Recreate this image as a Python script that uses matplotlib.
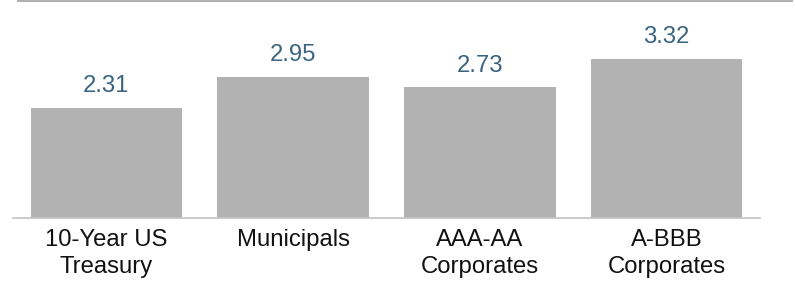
import matplotlib
matplotlib.use('Agg')
from matplotlib import pyplot as plt
from matplotlib.lines import Line2D

categories = ['10-Year US\nTreasury', 'Municipals', 'AAA-AA\nCorporates', 'A-BBB\nCorporates']
values = [2.31, 2.95, 2.73, 3.32]

plt.rcParams['font.family'] = ['Liberation Sans', 'DejaVu Sans']

fig = plt.figure(figsize=(7.95, 2.85), dpi=100)
ax = fig.add_axes([13 / 795, 67 / 285, 747 / 795, 218 / 285])

x = range(len(values))
ax.bar(x, values, width=0.81, color='#b2b2b2', edgecolor='none', zorder=2)

for xi, v in zip(x, values):
    ax.annotate('%.2f' % v, (xi, v), xytext=(0, 11.5), textcoords='offset points',
                ha='center', va='baseline', fontsize=17.2, color='#3a6482')

ax.set_xlim(-0.5, len(values) - 0.5)
ax.set_ylim(0, 4.56)
ax.set_xticks(list(x))
ax.set_xticklabels(categories, fontsize=17.2, color='#111111', linespacing=1.28)
ax.tick_params(axis='x', length=0, pad=8)
ax.set_yticks([])

for side in ['top', 'left', 'right']:
    ax.spines[side].set_visible(False)
ax.spines['bottom'].set_color('#c4c4c4')
ax.spines['bottom'].set_linewidth(1.2)

# thin rule across the top of the figure
fig.add_artist(Line2D([18 / 795, 792 / 795], [1 - 1 / 285, 1 - 1 / 285],
                      color='#b0b0b0', linewidth=1.5))

fig.savefig('out.png', dpi=100)
